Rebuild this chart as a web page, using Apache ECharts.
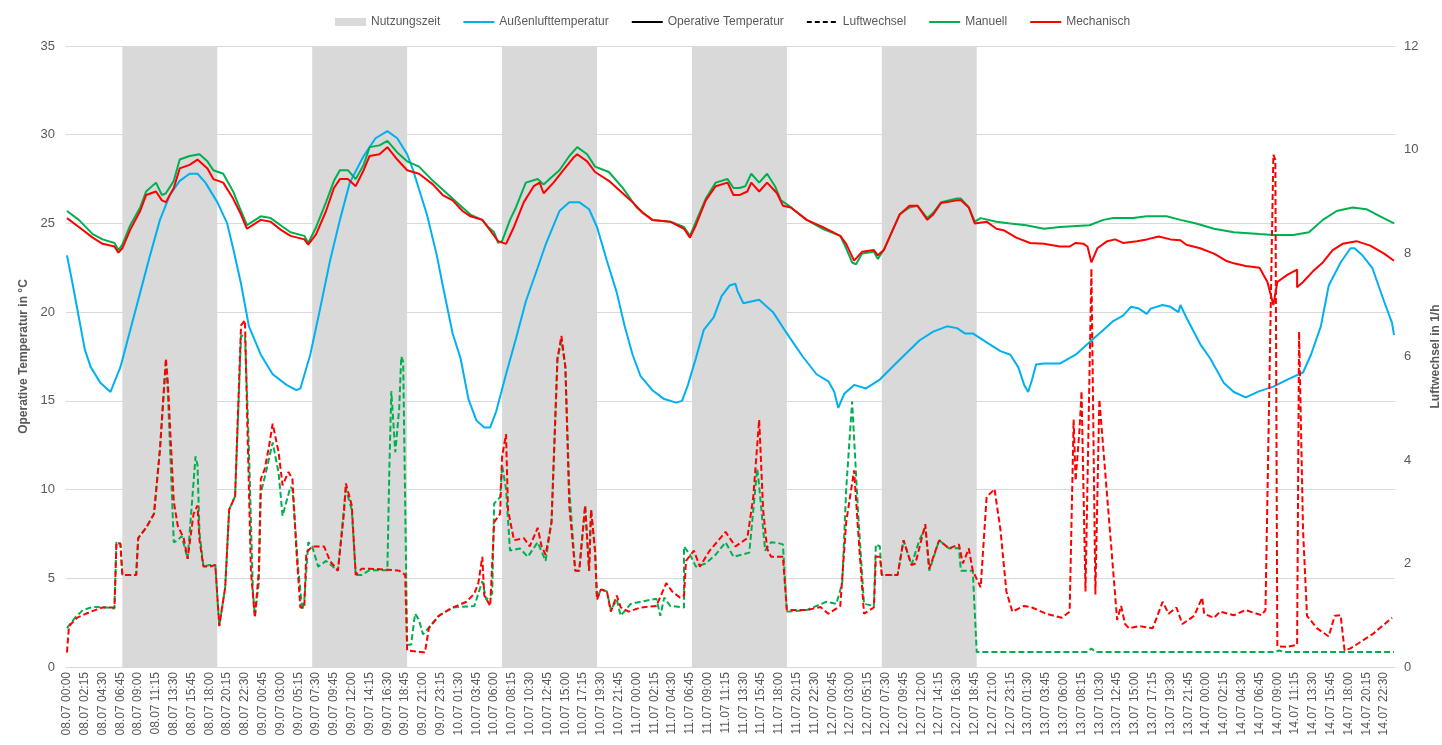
<!DOCTYPE html>
<html>
<head>
<meta charset="utf-8">
<script src="https://cdn.jsdelivr.net/npm/echarts@6/dist/echarts.min.js"></script>
<style>
  html, body { margin: 0; padding: 0; background: #fff; }
  #chart { width: 1442px; height: 745px; }
</style>
</head>
<body>
<div id="chart"></div>
<script>
// points are [hours since 08.07 00:00, value]
var outsideTemp = [[0,23.2],[0.8,21.5],[1.6,19.7],[2.3,17.9],[3.1,16.9],[4.2,16.0],[5.4,15.5],[6.7,16.9],[8.0,19.0],[9.2,21.1],[10.5,23.2],[11.8,25.2],[13.0,26.6],[14.3,27.4],[15.5,27.8],[16.4,27.8],[17.6,27.3],[18.9,26.2],[20.2,25.0],[21.0,23.6],[21.9,21.6],
  [23.1,19.2],[24.4,17.6],[26.1,16.5],[27.8,15.9],[29.0,15.6],[29.5,15.7],[30.7,17.6],[32.0,20.2],[33.2,22.9],[34.5,25.2],[35.8,27.3],[37.5,28.8],[39.1,29.8],[40.4,30.2],[41.7,29.8],[42.9,28.9],
  [43.8,28.0],[45.5,25.5],[46.7,23.2],[47.6,21.5],[48.8,18.8],[49.7,17.4],[50.7,15.1],[51.8,13.9],[52.8,13.5],[53.5,13.5],[54.3,14.4],[55.6,16.5],[56.8,18.5],[58.1,20.6],[59.4,22.5],[60.6,23.8],[62.3,25.7],[63.6,26.2],[64.8,26.2],
  [65.9,25.8],[67.0,24.8],[68.2,22.9],[69.5,21.1],[70.5,19.2],[71.6,17.6],[72.6,16.4],[74.1,15.6],[75.6,15.1],[77.0,14.9],[77.7,15.0],[78.5,15.9],[79.6,17.4],[80.4,19.0],[81.7,19.7],[82.7,20.9],[83.8,21.5],[84.4,21.6],[84.8,21.2],[85.5,20.5],
  [86.5,20.6],[87.6,20.7],[89.3,20.0],[91.0,18.8],[93.1,17.5],[94.8,16.5],[96.2,16.1],[96.9,15.5],[97.4,14.6],[98.3,15.4],[99.6,15.9],[101.1,15.7],[102.8,16.2],[104.9,17.2],[107.8,18.4],
  [109.5,18.9],[111.2,19.2],[112.5,19.1],[113.5,18.8],[114.6,18.8],[116.2,18.3],[117.9,17.8],[119.2,17.6],[120.2,16.9],[121.1,15.9],[121.5,15.5],[121.9,16.2],[122.6,17.05],[123.4,17.1],[125.5,17.1],[127.6,17.6],[129.3,18.3],
  [131.0,19.0],[132.2,19.5],[133.5,19.8],[134.6,20.3],[135.4,20.2],[136.5,19.9],[137.1,20.2],[138.4,20.4],[139.6,20.3],[140.5,20.0],[140.8,20.4],[141.5,19.7],[143.2,18.2],[144.5,17.4],[146.2,16.0],[147.4,15.5],[149.1,15.2],[150.8,15.55],
  [152.5,15.8],[154.2,16.2],[156.3,16.6],[157.3,17.6],[158.4,19.2],[159.6,21.5],[160.9,22.8],[162.2,23.6],[162.8,23.6],[163.8,23.2],[165.1,22.5],[166.4,20.6],[167.4,19.4],[167.75,18.7]];

var tempManuell = [[0,25.7],[1.6,25.2],[3.3,24.4],[4.6,24.1],[5.9,23.9],[6.5,23.5],[6.9,23.8],[8.0,24.9],[9.2,25.9],[10.1,26.8],[11.3,27.3],[12.0,26.6],[12.6,26.7],[13.4,27.4],[14.3,28.6],[15.5,28.8],[16.8,28.9],[17.7,28.5],[18.5,28.0],[19.8,27.8],[21.0,26.8],
  [21.9,25.7],[22.7,24.9],[23.1,24.8],[24.4,25.4],[25.7,25.3],[26.9,24.9],[28.2,24.5],[29.9,24.3],[30.6,23.9],[31.6,24.8],[32.8,26.2],[33.7,27.4],[34.5,28.0],[35.6,28.0],[36.4,27.5],[37.5,28.3],[38.3,29.3],[39.6,29.4],[40.6,29.65],[41.7,29.0],[42.9,28.5],
  [44.6,28.2],[46.3,27.4],[48.0,26.7],[49.7,26.0],[50.9,25.5],[52.4,25.2],[53.3,24.8],[53.9,24.5],[54.5,23.9],[55.1,24.0],[56.0,25.2],[56.8,25.9],[58.1,27.3],[59.6,27.5],[60.2,27.2],[60.6,27.1],[61.0,27.5],[62.3,28.0],[63.6,28.8],[64.6,29.3],
  [65.7,28.9],[66.7,28.2],[68.6,27.9],[70.3,27.0],[72.0,25.9],[74.1,25.2],[76.2,25.1],[78.1,24.8],[78.7,24.3],[79.6,25.1],[80.8,26.4],[82.1,27.3],[83.6,27.5],[84.2,27.0],[85.1,27.0],[85.8,27.1],
  [86.5,27.8],[87.4,27.3],[88.4,27.8],[89.5,27.1],[90.3,26.3],[91.2,26.0],[93.5,25.2],[95.6,24.7],[97.7,24.3],[98.5,23.6],[99.2,22.8],[99.8,22.7],[100.4,23.3],[101.9,23.4],[102.5,23.0],[103.2,23.5],[105.3,25.5],[106.5,25.9],
  [107.6,26.0],[108.7,25.3],[109.5,25.6],[110.6,26.2],[112.5,26.4],[112.9,26.4],[113.9,25.9],[114.8,25.1],[115.6,25.3],[117.5,25.1],[119.2,25.0],[121.3,24.9],[123.4,24.7],[125.5,24.8],[129.3,24.9],
  [131.0,25.2],[132.2,25.3],[134.8,25.3],[136.5,25.4],[139.0,25.4],[140.7,25.2],[142.8,25.0],[144.9,24.7],[147.4,24.5],[150.8,24.4],
  [152.5,24.35],[155.0,24.35],[157.1,24.5],[158.8,25.2],[160.5,25.7],[162.6,25.9],[164.3,25.8],[166.0,25.4],[167.75,25.0]];

var tempMechanisch = [[0,25.3],[1.6,24.8],[3.3,24.2],[4.6,23.85],[5.9,23.7],[6.5,23.35],[6.9,23.6],[8.0,24.65],[9.2,25.7],[10.1,26.6],[11.3,26.8],[12.0,26.3],[12.6,26.2],[13.4,27.0],[14.3,28.1],[15.5,28.3],[16.6,28.6],[17.7,28.1],[18.5,27.5],[19.8,27.3],[21.0,26.4],
  [21.9,25.5],[22.7,24.7],[23.1,24.65],[24.4,25.2],[25.7,25.1],[26.9,24.65],[28.2,24.3],[29.9,24.1],[30.6,23.8],[31.6,24.4],[32.8,25.7],[33.7,27.0],[34.5,27.5],[35.6,27.5],[36.4,27.1],[37.5,28.0],[38.3,28.8],[39.6,28.9],[40.6,29.3],[41.7,28.6],[42.9,28.0],
  [44.6,27.8],[46.3,27.2],[47.6,26.6],[48.8,26.3],[50.1,25.7],[51.1,25.4],[52.4,25.2],[53.5,24.6],[54.5,24.0],[55.5,23.85],[56.4,24.8],[57.7,26.2],[58.9,27.1],[59.8,27.3],[60.2,26.7],[60.6,26.6],[61.5,27.3],[62.7,28.0],[64.0,28.7],[64.6,28.9],
  [65.7,28.5],[66.7,27.9],[68.6,27.4],[70.3,26.7],[71.4,26.2],[72.8,25.6],[74.1,25.2],[76.2,25.1],[78.1,24.7],[78.7,24.2],[79.6,24.9],[80.8,26.3],[82.1,27.1],[83.6,27.3],[84.2,26.6],[85.1,26.6],[85.9,26.8],
  [86.5,27.3],[87.6,26.8],[88.6,27.3],[89.7,26.7],[90.5,26.0],[91.4,25.9],[93.5,25.2],[95.6,24.8],[97.7,24.3],[98.5,23.85],[99.4,22.9],[99.8,23.0],[100.6,23.4],[101.9,23.5],[102.5,23.2],[103.2,23.5],[105.3,25.5],[106.5,26.0],
  [107.6,26.0],[108.7,25.2],[109.5,25.5],[110.6,26.15],[112.5,26.3],[112.9,26.3],[113.9,25.9],[114.8,25.0],[116.2,25.1],[117.5,24.7],[118.4,24.6],[120.0,24.2],[121.7,23.9],[123.4,23.85],[125.5,23.7],[126.8,23.7],[127.6,23.9],[128.5,23.85],[128.9,23.7],[129.4,22.8],
  [130.3,23.6],[131.4,24.0],[132.5,24.1],[133.5,23.9],[135.2,24.0],[136.5,24.1],[138.1,24.26],[139.4,24.1],[140.7,24.05],[141.5,23.8],[143.2,23.6],[144.9,23.3],[146.6,22.9],[147.4,22.75],[149.1,22.6],[150.8,22.5],
  [151.8,21.7],[152.5,20.4],[153.1,21.7],[154.2,22.1],[155.4,22.4],[155.6,21.4],[156.3,21.7],[157.5,22.3],[158.8,22.8],[160.0,23.5],[161.3,23.85],[163.0,24.0],[164.7,23.75],[166.4,23.3],[167.75,22.9]];

var airManuell = [[0,0.75],[1.0,0.95],[2.0,1.1],[3.3,1.16],[5.0,1.15],[5.9,1.13],[6.2,2.42],[6.7,2.39],[6.9,1.78],[8.8,1.78],[9.0,2.49],[10.1,2.69],[11.1,2.96],[11.8,4.2],[12.4,5.88],[12.8,5.3],[13.4,2.41],[14.1,2.45],[14.5,2.53],[15.3,2.09],[16.2,4.07],[16.5,3.9],[16.8,2.6],[17.2,1.94],[18.1,1.97],[18.8,1.97],[19.2,0.79],[20.0,1.54],[20.4,3.04],[21.3,3.3],
  [22.1,6.4],[22.4,6.4],[22.9,4.2],[23.5,1.46],[23.8,0.99],[24.2,1.62],[24.6,3.36],[25.2,3.83],[26.1,4.34],[26.7,3.75],[27.3,2.92],[28.2,3.48],[28.6,3.44],[29.2,1.86],[29.7,1.1],[30.1,1.3],[30.4,2.41],[30.9,2.33],[31.8,1.94],[32.8,2.05],[34.3,1.86],[35.3,3.44],[36.0,3.04],[36.4,1.78],[37.2,1.78],[38.3,1.87],[40.5,1.87],[40.8,3.83],[41.1,5.33],[41.5,4.15],[41.9,5.0],[42.3,6.0],[42.6,5.9],[43.1,0.43],
  [43.5,0.43],[44.0,1.03],[44.5,0.91],[45.0,0.63],[47.1,0.99],[48.8,1.15],[51.6,1.18],[52.4,1.66],[53.0,1.3],[53.7,1.42],[54.1,3.16],[54.7,3.28],[55.1,3.9],[55.5,3.44],[56.0,2.25],[57.2,2.29],[58.3,2.13],[59.4,2.41],[60.4,2.05],[61.3,2.8],[61.9,5.96],[62.4,6.3],[63.0,5.8],[63.6,3.44],[64.2,1.86],[64.8,1.86],[65.5,3.12],[65.9,1.86],[66.3,3.04],[66.7,2.25],
  [67.0,1.33],[67.6,1.5],[68.2,1.46],[68.8,1.1],[69.5,1.3],[70.1,0.99],[71.2,1.22],[74.5,1.32],[75.0,0.99],[75.4,1.34],[76.2,1.18],[77.9,1.15],[78.1,2.33],[78.7,2.17],[79.6,1.94],[80.8,2.0],[82.1,2.17],[83.2,2.41],[84.2,2.13],[86.3,2.21],[87.2,3.83],[87.6,3.5],[88.2,2.25],[88.9,2.41],[89.7,2.4],[90.5,2.37],[91.0,1.07],
  [93.5,1.1],[96.0,1.26],[97.3,1.22],[97.9,1.62],[98.5,3.44],[99.3,5.13],[99.6,5.1],[100.0,3.0],[100.7,1.22],[101.9,1.18],[102.3,2.37],[102.8,2.33],[103.0,1.78],[104.9,1.78],[105.7,2.45],[106.8,1.97],[107.8,2.45],[108.4,2.7],[109.1,1.86],[110.3,2.45],[111.6,2.29],[112.7,2.3],[112.9,1.86],[114.6,1.86],[115.0,0.29],
  [129.0,0.29],[129.5,0.36],[130.0,0.29],[152.5,0.29],[153.2,0.32],[153.8,0.29],[167.75,0.29]];

var airMechanisch = [[0,0.28],[0.2,0.79],[1.2,0.95],[2.9,1.07],[4.6,1.15],[5.9,1.15],[6.2,2.4],[6.7,2.38],[6.9,1.78],[8.8,1.78],[9.0,2.49],[10.1,2.69],[11.1,2.96],[11.8,4.2],[12.4,5.96],[12.8,5.5],[13.4,3.2],[14.1,2.73],[14.7,2.49],[15.3,2.09],[16.0,2.96],[16.4,3.12],[16.8,2.45],[17.2,1.94],[18.1,1.94],[18.8,1.97],[19.2,0.79],[20.0,1.54],[20.4,3.04],[21.3,3.3],
  [22.1,6.6],[22.4,6.7],[22.7,5.0],[23.3,1.86],[23.8,0.95],[24.2,1.86],[24.4,3.63],[25.0,3.83],[25.4,4.23],[26.1,4.7],[26.7,4.15],[27.3,3.51],[28.0,3.77],[28.5,3.63],[29.0,2.25],[29.4,1.15],[29.95,1.15],[30.3,2.21],[31.1,2.33],[32.4,2.33],[33.2,2.05],[34.3,1.86],[34.9,2.96],[35.3,3.55],[35.9,3.12],[36.4,1.78],[37.2,1.9],[38.3,1.9],[40.4,1.88],[42.1,1.86],[42.7,1.78],[42.9,0.32],
  [45.2,0.28],[45.7,0.75],[47.1,0.99],[48.8,1.15],[50.5,1.26],[51.4,1.42],[52.0,1.62],[52.4,2.13],[52.8,1.38],[53.5,1.18],[54.1,2.8],[54.7,2.96],[55.1,4.07],[55.5,4.5],[55.8,3.04],[56.4,2.45],[57.7,2.49],[58.5,2.33],[59.4,2.69],[60.0,2.33],[60.6,2.17],[61.3,2.8],[61.9,5.96],[62.4,6.4],[63.0,5.8],[63.6,3.1],[64.2,1.86],[64.8,1.86],[65.5,3.12],[65.9,1.86],[66.3,3.04],[66.7,2.25],
  [67.0,1.3],[67.6,1.5],[68.2,1.46],[68.8,1.07],[69.5,1.38],[70.1,1.15],[70.9,1.07],[72.4,1.15],[74.5,1.18],[75.8,1.62],[76.6,1.46],[77.5,1.34],[78.1,1.38],[78.3,2.05],[79.2,2.25],[80.0,1.94],[81.3,2.25],[83.2,2.61],[84.6,2.33],[85.9,2.49],[86.7,3.28],[87.5,4.78],[88.0,3.04],[88.4,2.29],[89.1,2.13],[90.6,2.13],[91.0,1.1],
  [93.5,1.1],[95.2,1.16],[96.2,1.03],[97.7,1.18],[98.5,2.8],[99.4,3.8],[100.0,2.65],[100.7,1.03],[101.9,1.15],[102.3,2.13],[102.8,2.13],[103.0,1.78],[104.9,1.78],[105.7,2.45],[106.8,1.97],[107.2,2.0],[108.4,2.76],[109.1,1.9],[110.3,2.45],[111.6,2.29],[112.7,2.37],[113.3,2.0],[114.1,2.29],[114.6,1.86],[115.4,1.54],
  [116.2,3.28],[117.3,3.44],[118.0,2.65],[118.8,1.46],[119.6,1.07],[121.1,1.18],[122.0,1.15],[123.8,1.03],[125.7,0.95],[126.8,1.07],[127.2,4.78],[127.5,3.6],[127.9,4.6],[128.3,5.33],[128.8,1.46],[129.4,7.7],[129.9,1.4],[130.6,5.17],[132.7,0.91],[133.3,1.18],[133.7,0.83],[134.3,0.75],[135.6,0.79],[137.3,0.75],[138.6,1.26],[139.2,1.03],[140.3,1.15],[141.1,0.83],[142.6,0.99],[143.4,1.34],[143.8,1.03],[144.9,0.95],[145.7,1.07],[147.4,1.0],[148.9,1.1],
  [151.0,1.0],[151.6,1.1],[152.6,9.9],[152.8,9.8],[153.1,0.4],[154.2,0.39],[155.4,0.43],[155.8,6.48],[156.3,2.65],[156.7,0.99],[158.0,0.75],[159.6,0.59],[160.3,0.99],[160.9,1.0],[161.5,0.32],[162.2,0.36],[165.1,0.63],[167.4,0.95]];

var usagePeriods = [['08.07 07:00', '08.07 19:00'], ['09.07 07:00', '09.07 19:00'], ['10.07 07:00', '10.07 19:00'], ['11.07 07:00', '11.07 19:00'], ['12.07 07:00', '12.07 19:00']];

var days = ['08.07', '09.07', '10.07', '11.07', '12.07', '13.07', '14.07'];

function pad(n) { return (n < 10 ? '0' : '') + n; }
var categories = [];
days.forEach(function (d) {
  for (var q = 0; q < 96; q++) {
    categories.push(d + ' ' + pad(Math.floor(q / 4)) + ':' + pad((q % 4) * 15));
  }
});
function toPoints(arr) {
  return arr.map(function (p) { return [Math.round(p[0] * 4), p[1]]; });
}

var textColor = '#595959';
var font = 'Liberation Sans';

var chart = echarts.init(document.getElementById('chart'));
chart.setOption({
  animation: false,
  textStyle: { fontFamily: font },
  grid: { left: 66, right: 47, top: 46, bottom: 78, outerBoundsMode: 'none' },
  legend: {
    top: 11, left: 330, itemWidth: 31, itemHeight: 8, itemGap: 22,
    itemStyle: { opacity: 0 },
    textStyle: { color: textColor, fontSize: 12, fontFamily: font },
    data: [
      { name: 'Nutzungszeit', icon: 'rect', itemStyle: { color: '#D9D9D9', opacity: 1 } },
      'Außenlufttemperatur', 'Operative Temperatur', 'Luftwechsel', 'Manuell', 'Mechanisch'
    ]
  },
  xAxis: {
    type: 'category', data: categories, boundaryGap: true,
    axisLine: { lineStyle: { color: '#D9D9D9' } },
    axisTick: { show: false },
    axisLabel: { interval: 8, rotate: 90, color: textColor, fontSize: 12, margin: 5 }
  },
  yAxis: [{
    type: 'value', min: 0, max: 35, interval: 5,
    name: 'Operative Temperatur in °C', nameLocation: 'middle', nameGap: 29, nameRotate: 90,
    nameTextStyle: { color: textColor, fontWeight: 'bold', fontSize: 12 },
    axisLabel: { color: textColor, fontSize: 13, margin: 11 },
    splitLine: { lineStyle: { color: '#D9D9D9' } }
  }, {
    type: 'value', min: 0, max: 12, interval: 2,
    name: 'Luftwechsel in 1/h', nameLocation: 'middle', nameGap: 32, nameRotate: 90,
    nameTextStyle: { color: textColor, fontWeight: 'bold', fontSize: 12 },
    axisLabel: { color: textColor, fontSize: 13, margin: 9 },
    splitLine: { show: false }
  }],
  series: [{
    name: 'Nutzungszeit', type: 'line', data: [], symbol: 'none',
    itemStyle: { color: '#D9D9D9' },
    markArea: {
      silent: true,
      itemStyle: { color: '#D9D9D9' },
      data: usagePeriods.map(function (p) { return [{ xAxis: p[0] }, { xAxis: p[1] }]; })
    }
  }, {
    name: 'Außenlufttemperatur', type: 'line', symbol: 'none',
    data: toPoints(outsideTemp),
    itemStyle: { color: '#00B0F0' }, lineStyle: { color: '#00B0F0', width: 2 }
  }, {
    name: 'Operative Temperatur', type: 'line', symbol: 'none', data: [],
    itemStyle: { color: '#000' }, lineStyle: { color: '#000', width: 2.5 }
  }, {
    name: 'Luftwechsel', type: 'line', symbol: 'none', data: [],
    itemStyle: { color: '#000' }, lineStyle: { color: '#000', width: 2.5, type: [5, 3] }
  }, {
    name: 'Manuell', type: 'line', symbol: 'none',
    data: toPoints(tempManuell),
    itemStyle: { color: '#00B050' }, lineStyle: { color: '#00B050', width: 2 }
  }, {
    name: 'Mechanisch', type: 'line', symbol: 'none',
    data: toPoints(tempMechanisch),
    itemStyle: { color: '#FF0000' }, lineStyle: { color: '#FF0000', width: 2 }
  }, {
    name: 'Manuell', type: 'line', symbol: 'none', yAxisIndex: 1,
    data: toPoints(airManuell),
    itemStyle: { color: '#00B050' }, lineStyle: { color: '#00B050', width: 2, type: [6, 3] }
  }, {
    name: 'Mechanisch', type: 'line', symbol: 'none', yAxisIndex: 1,
    data: toPoints(airMechanisch),
    itemStyle: { color: '#FF0000' }, lineStyle: { color: '#FF0000', width: 2, type: [6, 3] }
  }]
});
</script>
</body>
</html>
